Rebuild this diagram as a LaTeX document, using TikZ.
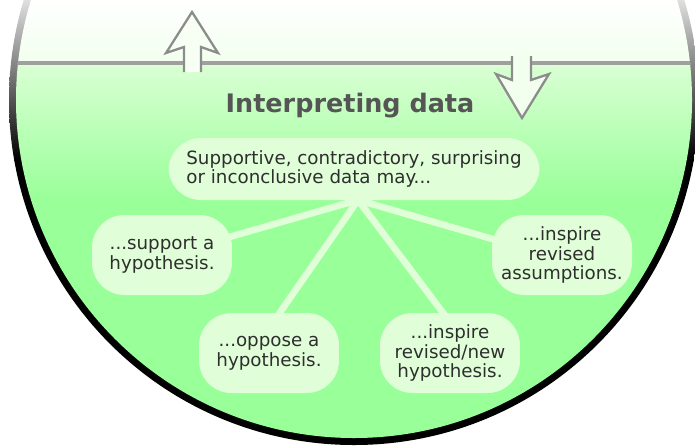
\documentclass[tikz,border=0pt]{standalone}
\usepackage{fontspec}
\setmainfont{DejaVu Sans}
\definecolor{datagreen}{HTML}{99FF99}
\definecolor{boxgreen}{HTML}{E0FFD8}
\definecolor{topgreen}{HTML}{F2FFEE}
\definecolor{linegreen}{HTML}{DAFFD4}
\definecolor{titlegray}{HTML}{555555}
\definecolor{textgray}{HTML}{2E2E2E}
\definecolor{arrowgray}{HTML}{8C8C8C}
\tikzset{
  databox/.style={fill=boxgreen, rounded corners=0.65cm, minimum width=2.8cm,
    minimum height=1.6cm, inner sep=0pt, align=center, text=textgray,
    font=\fontsize{10.4}{11.3}\selectfont},
  spoke/.style={draw=boxgreen, line width=3.8pt, shorten >=-3pt, shorten <=-2pt},
  hollowarrow/.style={draw=arrowgray, line width=1.3pt, line join=miter},
}

\begin{document}
\begin{tikzpicture}[x=0.02cm,y=0.02cm]
  \useasboundingbox (0,0) rectangle (695,-447);
  \clip (0,0) rectangle (695,-447);
  % rim of the bowl
  \begin{scope}
    \clip (354,-100) circle[radius=345];
    \shade[top color=gray!25, bottom color=black] (0,0) rectangle (695,-160);
    \fill[black] (0,-160) rectangle (695,-447);
  \end{scope}
  \begin{scope}
    \clip (354,-100) circle[radius=338];
    \shade[top color=white, bottom color=topgreen] (0,0) rectangle (695,-63);
    \shade[top color=linegreen, bottom color=datagreen] (0,-63) rectangle (695,-200);
    \fill[datagreen] (0,-200) rectangle (695,-447);
    \draw[gray!75, line width=2.2pt] (0,-63) -- (695,-63);
  \end{scope}
  % up and down arrows
  \fill[topgreen!60!white] (184,-72) -- (184,-47) -- (166,-53) -- (192,-12)
    -- (218,-53) -- (201,-47) -- (201,-72) -- cycle;
  \draw[hollowarrow] (184,-72) -- (184,-47) -- (166,-53) -- (192,-12)
    -- (218,-53) -- (201,-47) -- (201,-72);
  \fill[topgreen] (512,-56) -- (512,-80) -- (496,-74) -- (522,-118)
    -- (549,-74) -- (531,-80) -- (531,-56) -- cycle;
  \draw[hollowarrow] (512,-56) -- (512,-80) -- (496,-74) -- (522,-118)
    -- (549,-74) -- (531,-80) -- (531,-56);

  \node[anchor=base, text=titlegray, font=\fontsize{14.5}{17}\selectfont\bfseries]
    (title) at (350,-112) {Interpreting data};

  \node[databox, minimum width=7.42cm, minimum height=1.24cm, align=left,
    font=\fontsize{10.4}{10.4}\selectfont]
    (may) at (354,-169) {Supportive, contradictory, surprising\\or inconclusive data may...};
  \node[databox] (support) at (162,-255) {...support a\\hypothesis.};
  \node[databox] (assume) at (562,-255) {...inspire\\revised\\assumptions.};
  \node[databox] (oppose) at (269,-353) {...oppose a\\hypothesis.};
  \node[databox] (revise) at (450,-353) {...inspire\\revised/new\\hypothesis.};

  \coordinate (hub) at (358,-200);
  \draw[spoke] (hub) -- (support.15);
  \draw[spoke] (hub) -- (oppose.75);
  \draw[spoke] (hub) -- (revise.100);
  \draw[spoke] (hub) -- (assume.167);
\end{tikzpicture}
\end{document}
